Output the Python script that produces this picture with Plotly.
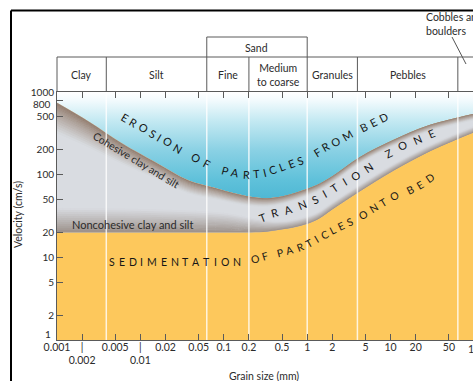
import numpy as np
import plotly.graph_objects as go

# ---------------- data ----------------
# upper threshold (erosion velocity), grain size mm / velocity cm/s
erosion_d = [0.001, 0.0024, 0.006, 0.015, 0.037, 0.083, 0.13, 0.21, 0.33, 0.51, 0.82, 1.3, 2.0, 4.3, 10.7, 27, 68, 100]
erosion_v = [740, 440, 240, 142, 86, 68, 60, 54, 52, 55, 63, 75, 96, 164, 262, 388, 498, 545]
# lower threshold (settling velocity)
deposition_d = [0.001, 0.01, 0.1, 0.21, 0.33, 0.51, 0.82, 1.3, 2.0, 4.3, 10.7, 27, 68, 100]
deposition_v = [20, 20, 20, 20, 20.4, 21.8, 24, 28.3, 38, 63, 111, 183, 277, 325]

# grain-size classes
class_bounds = [0.001, 0.0039, 0.0625, 0.2, 1, 4, 64]
class_names = ["Clay", "Silt", "Fine", "Medium<br>to coarse", "Granules", "Pebbles"]
sand_bounds = [0.0625, 1]

x_tickvals = [0.001, 0.002, 0.005, 0.01, 0.02, 0.05, 0.1, 0.2, 0.5, 1, 2, 5, 10, 20, 50]
x_ticktext = ["0.001", "|<br>0.002", "0.005", "|<br>0.01", "0.02", "0.05", "0.1", "0.2", "0.5",
              "1", "2", "5", "10", "20", "50"]
y_tickvals = [1, 2, 5, 10, 20, 50, 100, 200, 500, 800, 1000]
y_ticktext = ["", "2", "5", "10", "20", "50", "100", "200", "500", "", "1000"]

# ---------------- layout geometry ----------------
W, H = 473, 381
ML, MR, MT, MB = 57, 0, 92, 41
PW, PH = W - ML - MR, H - MT - MB
XMIN, XMAX = -3, 1.988
YMIN, YMAX = 0, 3
PX_DEC_Y = PH / (YMAX - YMIN)

FONT = "Lato"
TXT = "#2b2b2b"
LINEC = "#5a5a5a"
YELLOW = "#fdc85c"
GREY = "#d9dce1"


def px2paper(px, py):
    return (px - ML) / PW, (H - MB - py) / PH


def xdata2paper(d):
    return (np.log10(d) - XMIN) / (XMAX - XMIN)


def hex2rgb(h):
    h = h.lstrip('#')
    return [int(h[i:i + 2], 16) for i in (0, 2, 4)]


def mix(c1, c2, t):
    a, b = hex2rgb(c1), hex2rgb(c2)
    return "rgb(%d,%d,%d)" % tuple(round(a[i] + (b[i] - a[i]) * t) for i in range(3))


fig = go.Figure()
common = dict(mode="lines", hoverinfo="skip", showlegend=False)

# erosion field (blue gradient) between top and erosion curve
fig.add_trace(go.Scatter(x=erosion_d, y=[1000] * len(erosion_d), line=dict(width=0), **common))
fig.add_trace(go.Scatter(
    x=erosion_d, y=erosion_v, line=dict(width=0, shape="spline"), fill="tonexty",
    fillgradient=dict(type="vertical", colorscale=[
        [0.0, "#4fb8d4"], [0.17, "#5fc1da"], [0.45, "#8ad1e4"], [0.74, "#c6eaf3"],
        [0.92, "#f2fafd"], [1.0, "#ffffff"]]),
    **common))
# transition zone
fig.add_trace(go.Scatter(x=deposition_d, y=deposition_v, line=dict(width=0, shape="spline"),
                         fill="tonexty", fillcolor=GREY, **common))

# shaded edges of transition zone
N = 12
ld_e = np.log10(erosion_d)
up_T = np.interp(ld_e, [-3, -2.5, -2, -1.5, -1, -0.5, 0, 1, 2], [30, 24, 17, 13, 10, 8, 7, 6, 6])
fig.add_trace(go.Scatter(x=erosion_d, y=erosion_v, line=dict(width=0, shape="spline"), **common))
for k in range(1, N + 1):
    f = k / N
    vk = np.array(erosion_v) * 10 ** (-f * up_T / PX_DEC_Y)
    col = mix("#927c6c", GREY, ((k - 0.5) / N) ** 0.85)
    fig.add_trace(go.Scatter(x=erosion_d, y=vk, line=dict(width=1, color=col, shape="spline"),
                             fill="tonexty", fillcolor=col, **common))

ld_d = np.log10(deposition_d)
lo_T = np.interp(ld_d, [-3, -1.2, -0.6, -0.3, 0, 2], [24, 22, 13, 8, 7, 6])
fig.add_trace(go.Scatter(x=deposition_d, y=deposition_v, line=dict(width=0, shape="spline"), **common))
for k in range(1, N + 1):
    f = k / N
    vk = np.array(deposition_v) * 10 ** (f * lo_T / PX_DEC_Y)
    col = mix("#9a8f88", GREY, ((k - 0.5) / N) ** 0.9)
    fig.add_trace(go.Scatter(x=deposition_d, y=vk, line=dict(width=1, color=col, shape="spline"),
                             fill="tonexty", fillcolor=col, **common))

# white class boundary lines
for b in class_bounds[1:]:
    fig.add_trace(go.Scatter(x=[b, b], y=[1, 1000], line=dict(color="rgba(255,255,255,0.8)", width=1.5),
                             **common))

# ---------------- annotations ----------------
anns = []

CHAR_W = {"A": .68, "B": .63, "C": .66, "D": .72, "E": .56, "F": .53, "I": .27, "L": .5, "M": .86,
          "N": .73, "O": .78, "P": .6, "R": .62, "S": .53, "T": .57, "Z": .6}


def word_on_path(word, pts, fs):
    pts = np.array(pts, float)
    seg = np.hypot(np.diff(pts[:, 0]), np.diff(pts[:, 1]))
    cum = np.concatenate([[0], np.cumsum(seg)])
    Lt = cum[-1]
    w = [CHAR_W.get(c, .62) * fs for c in word]
    n = len(word)
    base = sum((w[i] + w[i + 1]) / 2 for i in range(n - 1))
    track = (Lt - base) / (n - 1)
    pos = 0.0
    out = []
    for i, c in enumerate(word):
        x = np.interp(pos, cum, pts[:, 0])
        y = np.interp(pos, cum, pts[:, 1])
        a0, a1 = max(pos - 7, 0), min(pos + 7, Lt)
        dx = np.interp(a1, cum, pts[:, 0]) - np.interp(a0, cum, pts[:, 0])
        dy = np.interp(a1, cum, pts[:, 1]) - np.interp(a0, cum, pts[:, 1])
        ang = np.degrees(np.arctan2(dy, dx))
        xp, yp = px2paper(x, y)
        out.append(dict(x=xp, y=yp, xref="paper", yref="paper", text=c, showarrow=False,
                        textangle=float(ang), xanchor="center", yanchor="middle",
                        font=dict(family=FONT, size=fs, color="#161616")))
        if i < n - 1:
            pos += (w[i] + w[i + 1]) / 2 + track
    return out


zone_words = [
    ("EROSION", [(125, 117), (178, 148)], 11),
    ("OF", [(196, 157), (207, 163)], 11),
    ("PARTICLES", [(225, 170), (235, 172.7), (245, 174), (255, 174), (263, 172.7), (271.7, 170),
                   (281.7, 166.7), (290, 163.3), (300, 160)], 11),
    ("FROM", [(317, 152), (325, 147), (335, 142), (347, 135)], 11),
    ("BED", [(363, 127), (373, 122), (383, 117)], 11),
    ("TRANSITION", [(262, 217), (270, 214), (280, 211.7), (291.7, 208.3), (305, 203), (315, 199),
                    (330, 191), (343, 182), (355, 176), (368, 167)], 11),
    ("ZONE", [(388, 153), (402, 146), (417, 139), (431, 133)], 11),
    ("SEDIMENTATION", [(112, 262), (237, 262)], 10.5),
    ("OF", [(255, 259), (265, 256)], 10.5),
    ("PARTICLES", [(280, 253), (292, 250), (302, 247), (312, 242), (318, 238), (327, 233), (337, 228),
                   (343, 225), (350, 222)], 10.5),
    ("ONTO", [(363, 215), (374, 208), (384, 202), (394, 196)], 10.5),
    ("BED", [(410, 190), (420, 185), (430, 178)], 10.5),
]
for word, pts, fs in zone_words:
    anns += word_on_path(word, pts, fs)

xp, yp = px2paper(136, 160)
anns.append(dict(x=xp, y=yp, xref="paper", yref="paper", text="Cohesive clay and silt", showarrow=False,
                 textangle=31, xanchor="center", yanchor="middle",
                 font=dict(family=FONT, size=10.5, color=TXT)))
xp, yp = px2paper(132, 224)
anns.append(dict(x=xp, y=yp, xref="paper", yref="paper", text="Noncohesive clay and silt", showarrow=False,
                 xanchor="center", yanchor="middle", font=dict(family=FONT, size=11, color=TXT)))

# class labels in table
for i, name in enumerate(class_names):
    xc = (xdata2paper(class_bounds[i]) + xdata2paper(class_bounds[i + 1])) / 2
    _, yc = px2paper(0, 74.5)
    anns.append(dict(x=xc, y=yc, xref="paper", yref="paper", text=name, showarrow=False,
                     xanchor="center", yanchor="middle", font=dict(family=FONT, size=10.5, color=TXT)))
xc = (xdata2paper(sand_bounds[0]) + xdata2paper(sand_bounds[1])) / 2
_, yc = px2paper(0, 47.5)
anns.append(dict(x=xc, y=yc, xref="paper", yref="paper", text="Sand", showarrow=False,
                 xanchor="center", yanchor="middle", font=dict(family=FONT, size=10.5, color=TXT)))
xp, yp = px2paper(424, 24)
anns.append(dict(x=xp, y=yp, xref="paper", yref="paper", text="Cobbles and<br>boulders", showarrow=False,
                 xanchor="left", yanchor="middle", align="left",
                 font=dict(family=FONT, size=10.5, color=TXT)))

# extra tick labels
xp, yp = px2paper(477, 341)
anns.append(dict(x=xp, y=yp, xref="paper", yref="paper", text="100", showarrow=False,
                 xanchor="center", yanchor="top", font=dict(family=FONT, size=10.5, color=TXT)))
xp, yp = px2paper(53, 104)
anns.append(dict(x=xp, y=yp, xref="paper", yref="paper", text="800", showarrow=False,
                 xanchor="right", yanchor="middle", font=dict(family=FONT, size=10, color=TXT)))
xp, yp = px2paper(53, 334)
anns.append(dict(x=xp, y=yp, xref="paper", yref="paper", text="1", showarrow=False,
                 xanchor="right", yanchor="middle", font=dict(family=FONT, size=10, color=TXT)))

# axis titles
xp, yp = px2paper(264, 376)
anns.append(dict(x=xp, y=yp, xref="paper", yref="paper", text="Grain size (mm)", showarrow=False,
                 xanchor="center", yanchor="middle", font=dict(family=FONT, size=10.5, color=TXT)))
xp, yp = px2paper(18, 215)
anns.append(dict(x=xp, y=yp, xref="paper", yref="paper", text="Velocity (cm/s)", showarrow=False,
                 textangle=-90, xanchor="center", yanchor="middle",
                 font=dict(family=FONT, size=10.5, color=TXT)))

# ---------------- shapes (frame + table) ----------------
shapes = []


def pline(x0, y0, x1, y1, color=LINEC, width=1):
    shapes.append(dict(type="line", xref="paper", yref="paper", x0=x0, y0=y0, x1=x1, y1=y1,
                       line=dict(color=color, width=width), layer="above"))


# outer black frame
fx, fy = px2paper(11, 10.5)
pline(fx, fy, 1.05, fy, "#000000", 2)
pline(fx, fy, fx, -0.3, "#000000", 2)

_, y_tab = px2paper(0, 57)
_, y_sand = px2paper(0, 37)
pline(0, y_tab, 1.05, y_tab)
for b in class_bounds:
    xb = xdata2paper(b)
    pline(xb, 1.0, xb, y_tab)
for b in sand_bounds:
    xb = xdata2paper(b)
    pline(xb, y_tab, xb, y_sand)
pline(xdata2paper(sand_bounds[0]), y_sand, xdata2paper(sand_bounds[1]), y_sand)
# cobbles leader line
ax0, ay0 = px2paper(452, 37)
ax1, ay1 = px2paper(466, 64)
pline(ax0, ay0, ax1, ay1, "#555555", 1)

fig.update_layout(
    width=W, height=H, margin=dict(l=ML, r=MR, t=MT, b=MB, pad=0),
    paper_bgcolor="white", plot_bgcolor=YELLOW,
    font=dict(family=FONT, color=TXT),
    annotations=anns, shapes=shapes,
    xaxis=dict(type="log", range=[XMIN, XMAX], tickvals=x_tickvals, ticktext=x_ticktext,
               ticks="inside", ticklen=6, tickcolor=LINEC, tickwidth=1, tickangle=0,
               ticklabelstandoff=-3,
               showline=True, linecolor=LINEC, linewidth=1, mirror="ticks",
               showgrid=False, zeroline=False, tickfont=dict(family=FONT, size=10.5, color=TXT)),
    yaxis=dict(type="log", range=[YMIN, YMAX], tickvals=y_tickvals, ticktext=y_ticktext,
               ticks="inside", ticklen=6, tickcolor=LINEC, tickwidth=1,
               showline=True, linecolor=LINEC, linewidth=1,
               showgrid=False, zeroline=False, tickfont=dict(family=FONT, size=10, color=TXT)),
)

fig.write_html("out.html", config={"displayModeBar": False},
               post_script="document.body.style.margin='0px';document.body.style.overflow='hidden';")
